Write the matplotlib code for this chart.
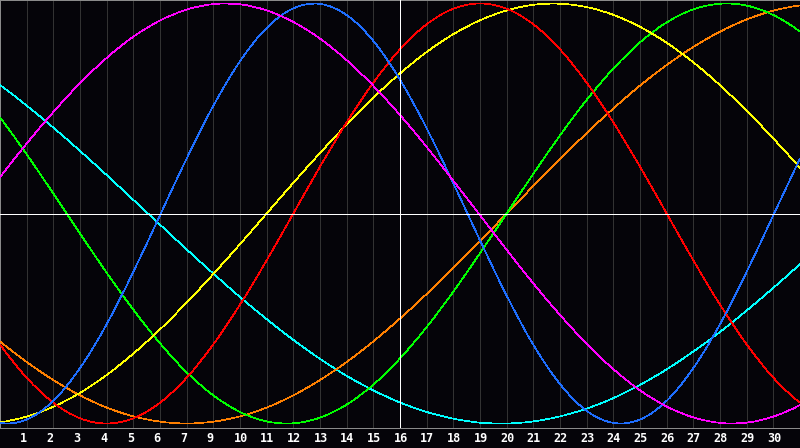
import matplotlib
matplotlib.use('Agg')
import matplotlib.pyplot as plt
from matplotlib.path import Path
from matplotlib.patches import PathPatch
import matplotlib.transforms as mtransforms
import numpy as np

# Day index 0..30 across the chart
days = list(range(31))
# Tick labels at grid positions 1..29 (day "8" is absent in the original)
tick_labels = ["1", "2", "3", "4", "5", "6", "7", "9", "10", "11", "12", "13", "14", "15",
               "16", "17", "18", "19", "20", "21", "22", "23", "24", "25", "26", "27", "28",
               "29", "30"]

# Cycle values (percent) read at each day position
magenta = [17.3, 33.3, 48.3, 62.1, 74.1, 84.2, 91.9, 97.1, 99.7, 99.6, 96.7, 91.2, 83.3, 73.0,
           60.8, 46.9, 31.7, 15.6, -0.8, -17.3, -33.3, -48.3, -62.1, -74.1, -84.2, -91.9,
           -97.1, -99.7, -99.6, -96.7, -91.2]
blue = [-99.7, -98.1, -89.2, -73.6, -52.7, -27.8, -0.8, 26.2, 51.3, 72.5, 88.4, 97.7, 99.8,
        94.5, 82.2, 63.7, 40.6, 14.4, -12.8, -39.1, -62.5, -81.2, -94.0, -99.7, -98.1, -89.2,
        -73.6, -52.7, -27.8, -0.8, 26.2]
red = [-62.3, -78.2, -90.1, -97.5, -100.0, -97.5, -90.1, -78.2, -62.3, -43.4, -22.3, 0.0,
       22.3, 43.4, 62.3, 78.2, 90.1, 97.5, 100.0, 97.5, 90.1, 78.2, 62.3, 43.4, 22.3, 0.0,
       -22.3, -43.4, -62.3, -78.2, -90.1]
yellow = [-99.4, -96.7, -92.0, -85.4, -76.9, -66.7, -55.2, -42.4, -28.8, -14.6, 0.0, 14.6,
          28.8, 42.4, 55.2, 66.7, 76.9, 85.4, 92.0, 96.7, 99.4, 99.9, 98.3, 94.6, 88.9, 81.3,
          72.0, 61.1, 48.9, 35.7, 21.7]
green = [45.8, 28.2, 9.5, -9.5, -28.2, -45.8, -61.8, -75.6, -86.6, -94.5, -99.0, -99.9,
         -97.2, -91.0, -81.5, -69.0, -54.1, -37.2, -18.9, 0.0, 18.9, 37.2, 54.1, 69.0, 81.5,
         91.0, 97.2, 99.9, 99.0, 94.5, 86.6]
orange = [-60.9, -70.7, -79.3, -86.6, -92.4, -96.6, -99.1, -100.0, -99.1, -96.6, -92.4,
          -86.6, -79.3, -70.7, -60.9, -50.0, -38.3, -25.9, -13.1, 0.0, 13.1, 25.9, 38.3, 50.0,
          60.9, 70.7, 79.3, 86.6, 92.4, 96.6, 99.1]
cyan = [61.2, 51.4, 40.9, 29.8, 18.3, 6.5, -5.3, -17.1, -28.6, -39.8, -50.3, -60.2, -69.2,
        -77.3, -84.2, -90.0, -94.5, -97.7, -99.6, -100.0, -99.0, -96.6, -92.9, -87.9, -81.6,
        -74.2, -65.7, -56.4, -46.2, -35.4, -24.1]

series = [
    (cyan, "#00ffff"),
    (orange, "#ff8000"),
    (green, "#00ff00"),
    (yellow, "#ffff00"),
    (red, "#ff0000"),
    (blue, "#1e6eff"),
    (magenta, "#ff00ff"),
]

BG = "#050409"
GRID = "#323232"
BORDER = "#8a8a8a"
PX = 72.0 / 100.0  # one pixel in points

fig = plt.figure(figsize=(8, 4.48), dpi=100, facecolor=BG)
ax = fig.add_axes([0, 20 / 448, 1, 428 / 448])
ax.set_facecolor(BG)
ax.set_xlim(0, 30)
ax.set_ylim(-102.14, 101.67)
ax.set_xticks([])
ax.set_yticks([])
for side, sp in ax.spines.items():
    sp.set_color(BORDER)
    sp.set_linewidth(PX)

# vertical day grid
for i in range(1, 30):
    if i == 15:
        continue
    ax.axvline(i, color=GRID, lw=PX, zorder=1, antialiased=False)


def smooth_path(x, y):
    x = np.asarray(x, float)
    y = np.asarray(y, float)
    n = len(x)
    my = np.empty(n)
    my[1:-1] = (y[2:] - y[:-2]) / 2.0
    my[0] = (-3 * y[0] + 4 * y[1] - y[2]) / 2.0
    my[-1] = (3 * y[-1] - 4 * y[-2] + y[-3]) / 2.0
    verts = [(x[0], y[0])]
    codes = [Path.MOVETO]
    for i in range(n - 1):
        dx = x[i + 1] - x[i]
        verts += [(x[i] + dx / 3, y[i] + my[i] / 3),
                  (x[i + 1] - dx / 3, y[i + 1] - my[i + 1] / 3),
                  (x[i + 1], y[i + 1])]
        codes += [Path.CURVE4] * 3
    return Path(verts, codes)


for vals, col in series:
    patch = PathPatch(smooth_path(days, vals), fill=False, edgecolor=col,
                      lw=PX * 0.7, zorder=3, antialiased=False)
    ax.add_patch(patch)

# white centre cross
ax.axhline(0, color="white", lw=PX, zorder=4, antialiased=False)
ax.axvline(15, color="white", lw=PX, zorder=4, antialiased=False)

trans = mtransforms.blended_transform_factory(ax.transData, ax.transAxes)
for i, lab in enumerate(tick_labels, start=1):
    ax.text(i - 6.5 / 26.667, -10.5 / 428, lab, transform=trans, ha="left", va="center",
            color="white", fontsize=8.5, fontweight="bold", family="DejaVu Sans Mono",
            clip_on=False)

fig.savefig("out.png", dpi=100, facecolor=BG)
